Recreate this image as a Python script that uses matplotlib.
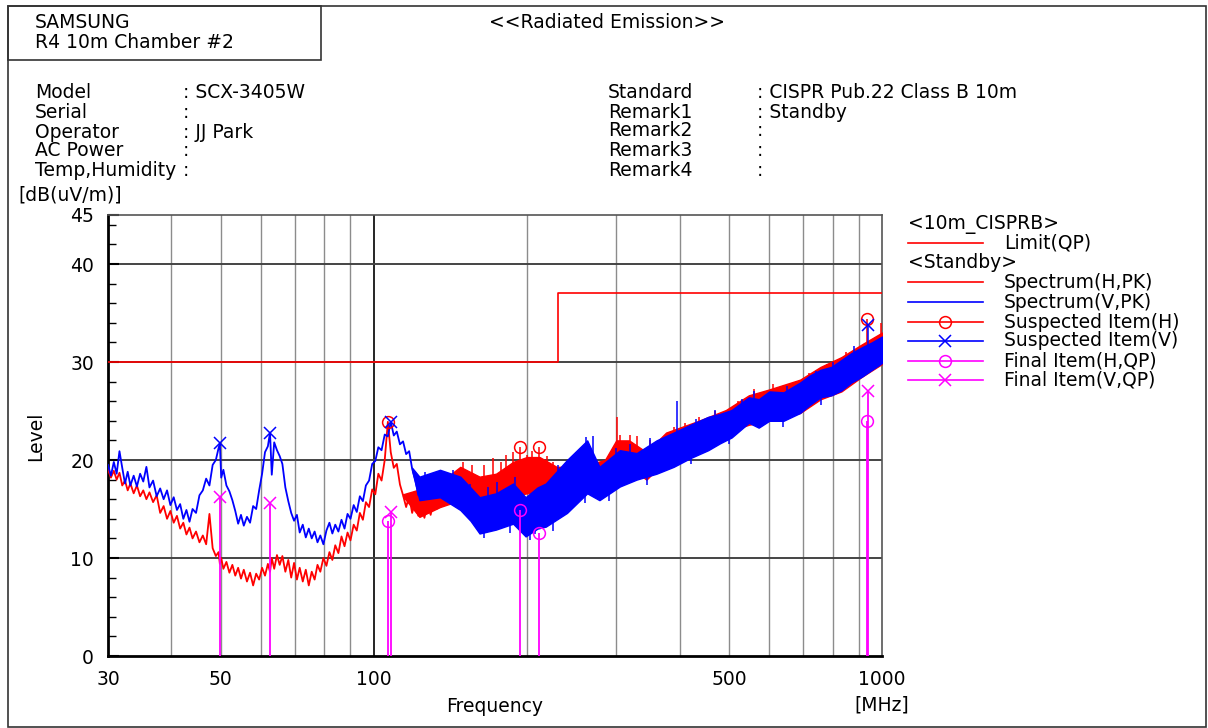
import matplotlib
matplotlib.use("Agg")
import matplotlib.pyplot as plt
from matplotlib.patches import Rectangle
import numpy as np

plt.rcParams['font.family'] = ['DejaVu Sans']

W, H = 1208, 728

# ---------------- data ----------------
limit_f = [30, 230, 1000]
limit_v = [30, 37, 37]

# low band (30-141 MHz): traces
lo_f = [30.0, 30.4, 30.8, 31.2, 31.6, 32.0, 32.4, 32.8, 33.2, 33.7, 34.2, 34.7, 35.2, 35.7, 36.2,
        36.8, 37.4, 38.0, 38.6, 39.2, 39.8, 40.4, 41.0, 41.6, 42.2, 42.8, 43.4, 44.0, 44.7, 45.4,
        46.1, 46.8, 47.5, 48.2, 48.9, 49.5, 49.8, 50.1, 50.6, 51.3, 52.0, 52.7, 53.4, 54.1, 54.8,
        55.5, 56.3, 57.1, 57.9, 58.7, 59.5, 60.3, 61.1, 61.9, 62.5, 63.0, 63.7, 64.5, 65.3, 66.1,
        67.0, 67.9, 68.8, 69.7, 70.6, 71.5, 72.5, 73.5, 74.5, 75.5, 76.5, 77.5, 78.5, 79.6, 80.7,
        81.8, 82.9, 84.0, 85.2, 86.4, 87.6, 88.8, 90.0, 91.3, 92.6, 93.9, 95.2, 96.5, 97.9, 99.3,
        100.7, 102.1, 103.6, 105.1, 106.6, 108.0, 109.5, 111.0, 112.6, 114.2, 115.8, 117.4, 119.0,
        120.7, 122.4, 124.1, 125.8, 127.6, 129.4, 131.2, 133.0, 135.0, 137.0, 139.0, 141.0]
v_low = [19.5, 18.4, 19.8, 18.6, 20.9, 19.2, 17.6, 18.8, 17.4, 18.4, 17.3, 18.6, 17.8, 19.3, 17.2,
         17.9, 16.3, 17.1, 16.0, 16.9, 15.4, 16.2, 14.9, 15.5, 14.0, 14.9, 13.7, 15.0, 14.6, 16.4,
         16.9, 18.1, 17.4, 19.5, 20.0, 21.2, 21.7, 18.2, 19.0, 17.4, 16.8, 15.9, 14.8, 13.5, 14.4,
         13.3, 14.2, 13.6, 15.3, 15.0, 16.9, 18.6, 20.8, 21.4, 22.8, 18.5, 21.8, 21.0, 20.4, 19.6,
         17.2, 15.8, 14.6, 13.8, 14.4, 12.6, 13.4, 12.1, 13.0, 12.0, 12.7, 11.6, 12.3, 11.4, 12.8,
         13.6, 12.5, 13.4, 12.7, 13.9, 13.0, 14.5, 14.0, 15.4, 14.7, 16.3, 15.8, 17.4, 17.9, 19.6,
         19.9, 21.3, 21.0, 22.6, 22.4, 23.9, 22.5, 22.9, 21.6, 21.9, 20.6, 20.9, 19.1,
         18.0, 16.4, 17.8, 16.6, 18.0, 16.5, 17.6, 16.8, 18.2, 16.6, 17.6, 16.2]
h_low = [19.0, 18.2, 18.9, 18.0, 18.7, 17.4, 17.9, 16.9, 17.6, 16.6, 17.4, 16.3, 16.9, 16.0, 16.7,
         15.7, 16.4, 14.6, 15.3, 14.0, 14.8, 13.6, 14.3, 13.0, 13.6, 12.4, 13.1, 12.0, 12.7, 11.6,
         12.3, 11.4, 14.5, 11.0, 10.2, 10.6, 9.4, 10.0, 8.9, 9.6, 8.5, 9.3, 8.2, 9.0, 7.9,
         8.8, 7.6, 8.5, 7.2, 8.4, 7.8, 9.0, 8.2, 9.4, 8.6, 10.0, 8.9, 10.3, 9.3, 10.2,
         8.6, 9.8, 8.0, 9.5, 7.8, 9.0, 7.6, 8.8, 7.2, 8.6, 7.8, 9.3, 8.6, 10.0, 9.2,
         10.6, 9.8, 11.3, 10.5, 12.2, 11.2, 12.6, 11.8, 13.4, 12.8, 14.6, 13.9, 15.7, 15.2, 17.0,
         16.5, 18.6, 17.9, 20.0, 23.9, 20.8, 19.2, 19.6, 17.5, 16.4, 15.2, 16.3, 14.6,
         15.8, 14.3, 15.4, 14.1, 15.6, 14.4, 15.9, 15.0, 16.7, 15.6, 17.0, 15.8]

# high band (from ~115 MHz): dense noise, read as lower / upper envelope
v_hf = [119, 123, 135, 148, 155, 161.5, 174, 188, 199, 210, 218, 240, 263, 278, 305, 329,
        360, 389, 420, 455, 480, 506, 547, 572, 600, 640, 690, 720, 757, 795, 832, 870, 913,
        955, 1000]
v_hlo = [18.9, 15.9, 16.2, 14.9, 13.8, 12.5, 12.9, 13.5, 12.2, 13.0, 13.2, 14.6, 16.6, 15.9,
         17.3, 18.0, 18.6, 19.3, 20.2, 21.0, 21.7, 22.3, 23.8, 23.3, 24.0, 24.0, 24.8, 25.6,
         26.4, 26.6, 27.1, 27.9, 28.5, 29.2, 29.9]
v_hhi = [19.2, 18.3, 19.0, 18.3, 17.2, 16.2, 16.6, 17.6, 16.2, 17.2, 17.6, 20.0, 22.0, 19.3,
         21.0, 20.7, 22.0, 22.8, 23.6, 24.4, 24.7, 25.1, 26.4, 26.2, 27.0, 26.9, 27.9, 28.6,
         29.2, 29.5, 30.2, 30.9, 31.5, 32.0, 32.6]
h_hf = [114.2, 123, 135, 148, 161.5, 174, 188, 200, 212, 229, 254, 285, 300, 318, 344, 376, 436,
        493, 547, 600, 690, 757, 832, 913, 1000]
h_hlo = [16.3, 14.2, 15.2, 15.9, 15.2, 15.4, 16.3, 16.6, 16.6, 15.9, 16.6, 17.5, 19.3, 19.3,
         18.0, 20.0, 21.0, 22.8, 23.6, 24.0, 24.8, 26.2, 27.0, 28.5, 29.8]
h_hhi = [16.5, 17.0, 17.7, 19.3, 18.3, 18.6, 19.8, 20.3, 20.3, 19.3, 19.3, 20.0, 22.0, 22.0,
         20.8, 22.8, 24.0, 25.1, 26.6, 27.2, 28.2, 29.5, 30.5, 31.8, 33.0]

# isolated spikes out of the noise band (freq, start, tip)
h_spk_f = [150, 156, 165, 172, 178, 182, 188, 193.6, 200, 205, 211, 214, 219, 225, 245, 255, 301,
           305, 320, 330, 350, 390, 410, 436, 470, 520, 560, 610, 660, 720, 780, 850, 935, 995]
h_spk_b = [17.5, 17.0, 17.0, 17.0, 17.5, 17.5, 18.0, 18.5, 18.5, 18.5, 18.5, 18.5, 18.0, 17.5,
           18.0, 18.0, 20.5, 20.5, 20.5, 20.0, 20.0, 21.5, 22.0, 22.5, 23.0, 24.0, 25.0, 25.5, 25.5,
           27.0, 28.0, 29.0, 30.0, 31.0]
h_spk_t = [19.8, 19.5, 19.5, 20.2, 19.8, 20.5, 20.8, 21.3, 20.5, 20.9, 21.3, 20.0, 20.4, 19.8,
           20.3, 20.6, 24.4, 22.6, 22.6, 22.4, 22.0, 23.4, 23.8, 24.4, 25.0, 26.0, 27.2, 27.8, 27.5,
           28.9, 29.8, 31.0, 34.4, 34.0]
v_spk_f = [126, 131, 143, 155, 168, 175, 190, 230, 250, 262, 270, 300, 320, 350, 395, 430, 470,
           530, 560, 650, 740, 800, 880, 939, 990,
           165, 185, 203, 208, 225, 260, 290, 345, 420, 500, 640, 760]
v_spk_b = [17.5, 17.5, 17.0, 15.5, 14.5, 15.0, 15.5, 17.0, 17.5, 19.0, 19.0, 19.0, 19.0, 20.0,
           21.0, 22.0, 22.5, 23.5, 25.0, 25.5, 27.0, 28.0, 29.5, 30.0, 31.0,
           14.5, 15.0, 14.5, 14.5, 15.0, 18.0, 17.5, 19.0, 21.5, 23.0, 25.0, 27.5]
v_spk_t = [18.8, 18.6, 19.0, 17.6, 17.2, 17.8, 18.3, 19.5, 20.8, 22.3, 22.5, 21.2, 21.6, 22.2,
           26.0, 24.2, 25.1, 26.2, 27.0, 27.6, 29.1, 30.0, 31.6, 33.8, 32.5,
           12.0, 12.6, 11.8, 12.4, 12.8, 15.6, 15.8, 17.4, 19.6, 21.6, 23.4, 25.6]

# markers
susp_h_f = [106.7, 193.6, 211, 935]
susp_h_v = [23.9, 21.3, 21.3, 34.4]
susp_v_f = [49.8, 62.5, 108, 939]
susp_v_v = [21.7, 22.8, 23.9, 33.8]
final_h_f = [106.7, 193.6, 211, 935]
final_h_v = [13.8, 14.9, 12.6, 24.0]
final_v_f = [49.8, 62.5, 108, 939]
final_v_v = [16.2, 15.6, 14.7, 27.0]

x_ticks = [30, 50, 100, 500, 1000]
x_grid = [40, 50, 60, 70, 80, 90, 200, 300, 400, 500, 600, 700, 800, 900]
y_ticks = [0, 10, 20, 30, 40, 45]

left_labels = ["Model", "Serial", "Operator", "AC Power", "Temp,Humidity"]
left_values = [": SCX-3405W", ":", ": JJ Park", ":", ":"]
right_labels = ["Standard", "Remark1", "Remark2", "Remark3", "Remark4"]
right_values = [": CISPR Pub.22 Class B 10m", ": Standby", ":", ":", ":"]

RED = "#ff0000"
BLUE = "#0000ff"
MAG = "#ff00ff"

# ---------------- figure ----------------
fig = plt.figure(figsize=(W / 100, H / 100), dpi=100)
fig.patch.set_facecolor("white")

def fx(x):
    return x / W

def fy(y):
    return 1 - y / H

bg = fig.add_axes([0, 0, 1, 1])
bg.set_xlim(0, W)
bg.set_ylim(H, 0)
bg.axis("off")
bg.add_patch(Rectangle((8, 6), 1198, 721, fill=False, ec="#333333", lw=1.2))
bg.add_patch(Rectangle((8, 6), 313, 54, fill=False, ec="#333333", lw=1.2))

FS = 13.5
fig.text(fx(35), fy(22), "SAMSUNG", fontsize=FS, va="center", ha="left")
fig.text(fx(35), fy(43), "R4 10m Chamber #2", fontsize=FS, va="center", ha="left")
fig.text(fx(607), fy(22), "<<Radiated Emission>>", fontsize=FS, va="center", ha="center")

ly = [93, 113, 132, 151, 171]
for yy, lab, val in zip(ly, left_labels, left_values):
    fig.text(fx(35), fy(yy), lab, fontsize=FS, va="center", ha="left")
    fig.text(fx(183), fy(yy), val, fontsize=FS, va="center", ha="left")
ry = [93, 112, 131, 151, 170]
for yy, lab, val in zip(ry, right_labels, right_values):
    fig.text(fx(608), fy(yy), lab, fontsize=FS, va="center", ha="left")
    fig.text(fx(757), fy(yy), val, fontsize=FS, va="center", ha="left")

fig.text(fx(18), fy(195), "[dB(uV/m)]", fontsize=FS, va="center", ha="left")
fig.text(fx(36), fy(436), "Level", fontsize=FS, va="center", ha="center", rotation=90)
fig.text(fx(495), fy(706), "Frequency", fontsize=FS, va="center", ha="center")
fig.text(fx(882), fy(705), "[MHz]", fontsize=FS, va="center", ha="center")

# main axes
ax = fig.add_axes([fx(108), fy(656), fx(882) - fx(108), fy(215) - fy(656)])
ax.set_xscale("log")
ax.set_xlim(30, 1000)
ax.set_ylim(0, 45)

for g in x_grid:
    ax.axvline(g, color="#8c8c8c", lw=1.0, zorder=1)
ax.axvline(100, color="#000000", lw=1.2, zorder=1)
for g in [10, 20, 30, 40]:
    ax.axhline(g, color="#444444", lw=1.4, zorder=1)

ax.plot(limit_f, limit_v, drawstyle="steps-post", color=RED, lw=1.2, zorder=3)

# H spectrum
ax.plot(lo_f, h_low, color=RED, lw=1.3, zorder=4)
ax.fill_between(h_hf, h_hlo, h_hhi, color=RED, lw=1.0, zorder=4)
ax.vlines(h_spk_f, h_spk_b, h_spk_t, color=RED, lw=1.1, zorder=4)
# V spectrum
ax.plot(lo_f, v_low, color=BLUE, lw=1.3, zorder=5)
ax.fill_between(v_hf, v_hlo, v_hhi, color=BLUE, lw=1.0, zorder=5)
ax.vlines(v_spk_f, v_spk_b, v_spk_t, color=BLUE, lw=1.1, zorder=5)

# final item stems
ax.vlines(final_h_f, 0, final_h_v, color=MAG, lw=1.3, zorder=6)
ax.vlines(final_v_f, 0, final_v_v, color=MAG, lw=1.3, zorder=6)

ax.plot(susp_h_f, susp_h_v, ls="none", marker="o", mfc="none", mec=RED, ms=8.5, mew=1.1, zorder=7)
ax.plot(susp_v_f, susp_v_v, ls="none", marker="x", color=BLUE, ms=9, mew=1.1, zorder=7)
ax.plot(final_h_f, final_h_v, ls="none", marker="o", mfc="none", mec=MAG, ms=8.5, mew=1.1, zorder=7)
ax.plot(final_v_f, final_v_v, ls="none", marker="x", color=MAG, ms=9, mew=1.1, zorder=7)

for s in ["top", "right"]:
    ax.spines[s].set_color("#555555")
    ax.spines[s].set_linewidth(1.2)
for s in ["left", "bottom"]:
    ax.spines[s].set_color("#000000")
    ax.spines[s].set_linewidth(2.0)

ax.set_xticks(x_ticks)
ax.set_xticklabels([str(t) for t in x_ticks], fontsize=FS)
ax.xaxis.set_minor_locator(matplotlib.ticker.NullLocator())
ax.tick_params(axis="x", which="major", length=0, pad=10)
ax.set_yticks(y_ticks)
ax.set_yticklabels([str(t) for t in y_ticks], fontsize=FS)
ax.set_yticks(np.arange(0, 45, 2), minor=True)
ax.tick_params(axis="y", which="major", direction="in", length=8, width=1.5, pad=10)
ax.tick_params(axis="y", which="minor", direction="in", length=6, width=1.0)

# legend (manual)
lg = fig.add_axes([0, 0, 1, 1], facecolor="none")
lg.set_xlim(0, W)
lg.set_ylim(H, 0)
lg.axis("off")
rows = [224, 243, 263, 282, 302, 322, 341, 361, 380]
lg.text(908, rows[0], "<10m_CISPRB>", fontsize=FS, va="center", ha="left")
lg.text(908, rows[2], "<Standby>", fontsize=FS, va="center", ha="left")
entries = [
    (rows[1], "Limit(QP)", RED, None),
    (rows[3], "Spectrum(H,PK)", RED, None),
    (rows[4], "Spectrum(V,PK)", BLUE, None),
    (rows[5], "Suspected Item(H)", RED, "o"),
    (rows[6], "Suspected Item(V)", BLUE, "x"),
    (rows[7], "Final Item(H,QP)", MAG, "o"),
    (rows[8], "Final Item(V,QP)", MAG, "x"),
]
for yy, lab, col, mk in entries:
    lg.plot([908, 983], [yy, yy], color=col, lw=1.2)
    if mk == "o":
        lg.plot([945], [yy], marker="o", mfc="none", mec=col, ms=8.5, mew=1.1)
    elif mk == "x":
        lg.plot([945], [yy], marker="x", color=col, ms=9, mew=1.1)
    lg.text(1004, yy, lab, fontsize=FS, va="center", ha="left")

fig.savefig("out.png", dpi=100)
